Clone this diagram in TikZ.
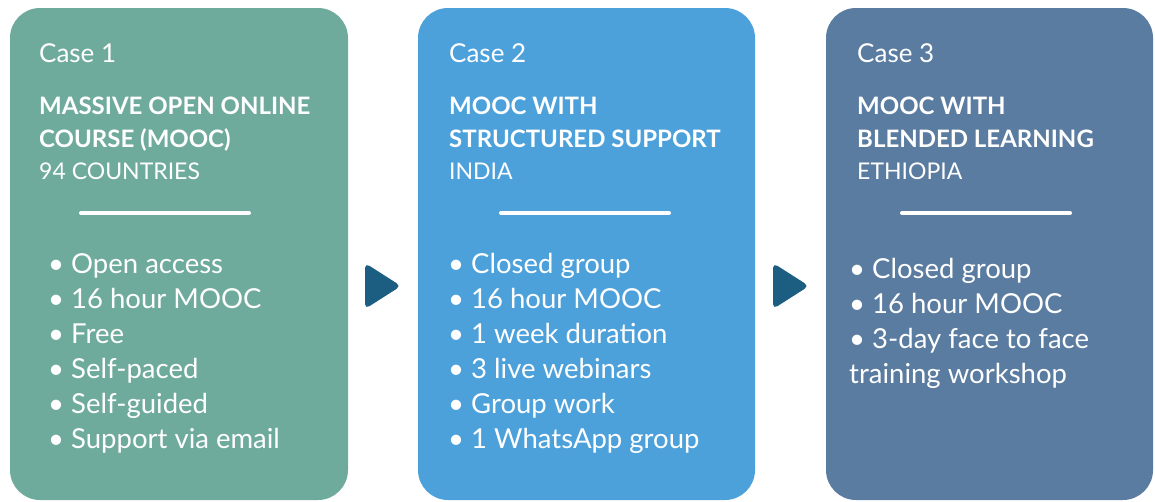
\documentclass[tikz,border=0pt]{standalone}
\usepackage{fontspec}
\setmainfont{Lato}
\usepackage{tikz}
\usetikzlibrary{positioning}

\definecolor{caseone}{HTML}{6FAB9C}
\definecolor{casetwo}{HTML}{4DA1DB}
\definecolor{casethree}{HTML}{5B7CA1}
\definecolor{arrowblue}{HTML}{1B5E82}

\begin{document}
\begin{tikzpicture}[x=1pt, y=-1pt,
    box/.style = {rounded corners=30pt, minimum height=492pt, inner sep=0pt},
    txt/.style = {anchor=base west, text=white, inner sep=0pt, font=\fontsize{26}{30}\selectfont},
    head/.style = {txt, font=\fontsize{24}{28}\selectfont\bfseries},
    sub/.style = {txt, font=\fontsize{23}{28}\selectfont},
    item/.style = {txt, font=\fontsize{27.5}{32}\selectfont},
    rule/.style = {white, line width=4pt, line cap=round}]
    \useasboundingbox (0,0) rectangle (1155,501);

    \node[box, fill=caseone, minimum width=338pt] (c1) at (179,254) {};
    \node[box, fill=casetwo, minimum width=337pt] (c2) at (586.5,254) {};
    \node[box, fill=casethree, minimum width=327pt] (c3) at (989.5,254) {};

    % case 1
    \node[txt] (t1) at (39,62) {Case 1};
    \node[head] (h1a) at (39,114) {MASSIVE OPEN ONLINE};
    \node[head] (h1b) at (39,147) {COURSE (MOOC)};
    \node[sub] (h1c) at (39,179) {94 COUNTRIES};
    \draw[rule] (81,213) -- (249,213);
    \node[item] (b1a) at (48,273) {• Open access};
    \node[item] (b1b) at (48,308) {• 16 hour MOOC};
    \node[item] (b1c) at (48,343) {• Free};
    \node[item] (b1d) at (48,378) {• Self-paced};
    \node[item] (b1e) at (48,413) {• Self-guided};
    \node[item] (b1f) at (48,448) {• Support via email};

    % case 2
    \node[txt] (t2) at (449,62) {Case 2};
    \node[head] (h2a) at (449,114) {MOOC WITH};
    \node[head] (h2b) at (449,147) {STRUCTURED SUPPORT};
    \node[sub] (h2c) at (449,179) {INDIA};
    \draw[rule] (501,213) -- (669,213);
    \node[item] (b2a) at (448,273) {• Closed group};
    \node[item] (b2b) at (448,308) {• 16 hour MOOC};
    \node[item] (b2c) at (448,343) {• 1 week duration};
    \node[item] (b2d) at (448,378) {• 3 live webinars};
    \node[item] (b2e) at (448,413) {• Group work};
    \node[item] (b2f) at (448,448) {• 1 WhatsApp group};

    % case 3
    \node[txt] (t3) at (857,62) {Case 3};
    \node[head] (h3a) at (857,114) {MOOC WITH};
    \node[head] (h3b) at (857,147) {BLENDED LEARNING};
    \node[sub] (h3c) at (857,179) {ETHIOPIA};
    \draw[rule] (902,213) -- (1070,213);
    \node[item] (b3a) at (849,278) {• Closed group};
    \node[item] (b3b) at (849,313) {• 16 hour MOOC};
    \node[item] (b3c) at (849,348) {• 3-day face to face};
    \node[item] (b3d) at (849,383) {training workshop};

    % arrows
    \fill[arrowblue, rounded corners=5pt] (365,263) -- (401,286) -- (365,309) -- cycle;
    \fill[arrowblue, rounded corners=5pt] (773,263) -- (809,286) -- (773,309) -- cycle;
\end{tikzpicture}
\end{document}
